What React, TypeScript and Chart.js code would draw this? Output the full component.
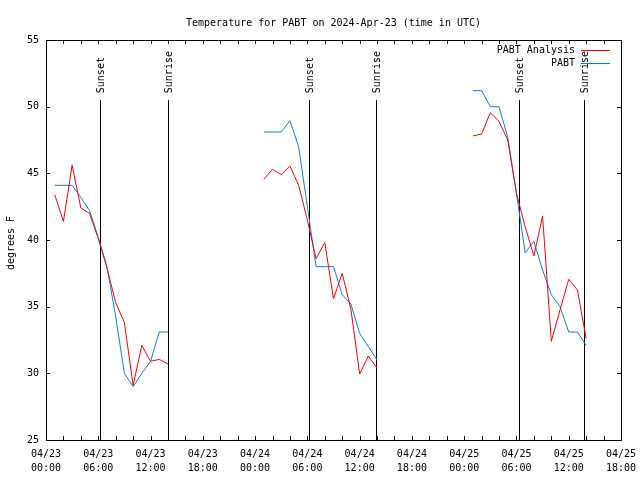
import React, { useEffect, useRef } from "react";
import { Chart, registerables } from "chart.js";

Chart.register(...registerables);

const TITLE = "Temperature for PABT on 2024-Apr-23 (time in UTC)";
const Y_TITLE = "degrees F";

// hours since 04/23 00:00 UTC
const hours = [
  1, 2, 3, 4, 5, 6, 7, 8, 9, 10, 11, 12, 13, 14, 15,
  25, 26, 27, 28, 29, 30, 31, 32, 33, 34, 35, 36, 37, 38, 39,
  49, 50, 51, 52, 53, 54, 55, 56, 57, 58, 59, 60, 61, 62,
];

const analysisValues = [
  43.4, 41.4, 45.6, 42.4, 42.0, 40.1, 37.9, 35.3, 33.8, 29.1, 32.1, 30.9, 31.05, 30.7, null,
  44.55, 45.3, 44.9, 45.55, 44.1, 41.5, 38.6, 39.8, 35.6, 37.5, 34.8, 29.95, 31.3, 30.4, null,
  47.8, 47.95, 49.55, 48.9, 47.5, 43.5, 41.0, 38.8, 41.8, 32.4, 34.75, 37.05, 36.25, 32.6,
];

const observedValues = [
  44.1, 44.1, 44.1, 43.2, 42.2, 40.2, 38.0, 34.25, 30.0, 29.0, 30.0, 30.9, 33.1, 33.1, null,
  48.1, 48.1, 48.1, 48.95, 47.0, 42.5, 38.0, 38.0, 38.0, 35.9, 35.2, 33.0, 32.0, 31.0, null,
  51.2, 51.2, 50.0, 50.0, 47.7, 43.5, 39.05, 39.9, 37.75, 35.9, 35.0, 33.1, 33.1, 32.1,
];

const sunsetHours = [6.24, 30.23, 54.33];
const sunriseHours = [13.97, 37.84, 61.79];

const xTickLabels = [
  ["04/23", "00:00"], ["04/23", "06:00"], ["04/23", "12:00"], ["04/23", "18:00"],
  ["04/24", "00:00"], ["04/24", "06:00"], ["04/24", "12:00"], ["04/24", "18:00"],
  ["04/25", "00:00"], ["04/25", "06:00"], ["04/25", "12:00"], ["04/25", "18:00"],
];

const seriesNames = ["PABT Analysis", "PABT"];
const seriesColors = ["#ff0000", "#0080ff"];

const FONT = "DejaVu Sans Mono";

const decorPlugin = {
  id: "decor",
  beforeDatasetsDraw(chart: any) {
    const { ctx, chartArea, scales } = chart;
    const xs = scales.x;
    const h = chartArea.bottom - chartArea.top;
    ctx.save();
    ctx.strokeStyle = "#000";
    ctx.lineWidth = 1;
    ctx.fillStyle = "#000";
    ctx.font = `10px "${FONT}"`;
    const drawEvent = (hr: number, label: string) => {
      const x = Math.round(xs.getPixelForValue(hr)) + 0.5;
      const yTop = chartArea.bottom - 0.85 * h;
      ctx.beginPath();
      ctx.moveTo(x, chartArea.bottom);
      ctx.lineTo(x, yTop);
      ctx.stroke();
      ctx.save();
      ctx.translate(x + 1, chartArea.bottom - 0.867 * h);
      ctx.rotate(-Math.PI / 2);
      ctx.textAlign = "left";
      ctx.textBaseline = "middle";
      ctx.fillText(label, 0, 0);
      ctx.restore();
    };
    sunsetHours.forEach((hr) => drawEvent(hr, "Sunset"));
    sunriseHours.forEach((hr) => drawEvent(hr, "Sunrise"));
    ctx.restore();
  },
  afterDraw(chart: any) {
    const { ctx, chartArea, scales } = chart;
    const xs = scales.x;
    const ys = scales.y;
    const { left, right, top, bottom } = chartArea;
    ctx.save();
    ctx.strokeStyle = "#000";
    ctx.fillStyle = "#000";
    ctx.lineWidth = 1;
    // frame
    ctx.strokeRect(Math.round(left) + 0.5, Math.round(top) + 0.5, Math.round(right - left), Math.round(bottom - top));
    // x ticks (every 2 h), inward on bottom and top
    ctx.beginPath();
    for (let v = xs.min; v <= xs.max; v += 2) {
      const x = Math.round(xs.getPixelForValue(v)) + 0.5;
      ctx.moveTo(x, bottom);
      ctx.lineTo(x, bottom - 4);
      ctx.moveTo(x, top);
      ctx.lineTo(x, top + 4);
    }
    // y ticks every 5, inward on left and right
    for (let v = ys.min; v <= ys.max; v += 5) {
      const y = Math.round(ys.getPixelForValue(v)) + 0.5;
      ctx.moveTo(left, y);
      ctx.lineTo(left + 4, y);
      ctx.moveTo(right, y);
      ctx.lineTo(right - 4, y);
    }
    ctx.stroke();

    ctx.font = `10px "${FONT}"`;
    // title
    ctx.textAlign = "center";
    ctx.textBaseline = "middle";
    ctx.fillText(TITLE, (left + right) / 2, 23);
    // y title
    ctx.save();
    ctx.translate(11, (top + bottom) / 2 + 3);
    ctx.rotate(-Math.PI / 2);
    ctx.fillText(Y_TITLE, 0, 0);
    ctx.restore();
    // legend
    ctx.textAlign = "right";
    seriesNames.forEach((name, i) => {
      const y = 49.5 + i * 13;
      ctx.fillStyle = "#000";
      ctx.fillText(name, 575, y + 1);
      ctx.strokeStyle = seriesColors[i];
      ctx.beginPath();
      ctx.moveTo(581, Math.round(y) + 0.5);
      ctx.lineTo(610, Math.round(y) + 0.5);
      ctx.stroke();
    });
    ctx.restore();
  },
};

export default function App() {
  const canvasRef = useRef<HTMLCanvasElement | null>(null);

  useEffect(() => {
    document.body.style.margin = "0";
    const canvas = canvasRef.current;
    if (!canvas) return;
    Chart.defaults.font.family = FONT;
    Chart.defaults.font.size = 10;
    Chart.defaults.color = "#000";

    const mk = (vals: (number | null)[]) =>
      hours.map((hr, i) => ({ x: hr, y: vals[i] }));

    const chart = new Chart(canvas, {
      type: "line",
      data: {
        datasets: [
          {
            label: seriesNames[0],
            data: mk(analysisValues) as any,
            borderColor: seriesColors[0],
            backgroundColor: seriesColors[0],
            borderWidth: 1,
            pointRadius: 0,
            tension: 0,
            spanGaps: false,
          },
          {
            label: seriesNames[1],
            data: mk(observedValues) as any,
            borderColor: seriesColors[1],
            backgroundColor: seriesColors[1],
            borderWidth: 1,
            pointRadius: 0,
            tension: 0,
            spanGaps: false,
          },
        ],
      },
      options: {
        animation: false,
        responsive: false,
        devicePixelRatio: 1,
        layout: { padding: { top: 40, right: 19, left: 0, bottom: 0 } },
        plugins: {
          legend: { display: false },
          title: { display: false },
          tooltip: { enabled: false },
        },
        scales: {
          x: {
            type: "linear",
            min: 0,
            max: 66,
            grid: { display: false, drawTicks: false },
            border: { display: false },
            ticks: {
              stepSize: 6,
              padding: 7,
              maxRotation: 0,
              autoSkip: false,
              font: { family: FONT, size: 10, lineHeight: 1.4 },
              callback: (_v: any, idx: number) => xTickLabels[idx] ?? "",
            },
            afterFit: (s: any) => {
              s.height = 40;
              s.paddingLeft = 0;
              s.paddingRight = 0;
            },
          },
          y: {
            type: "linear",
            min: 25,
            max: 55,
            grid: { display: false, drawTicks: false },
            border: { display: false },
            ticks: {
              stepSize: 5,
              padding: 7,
              font: { family: FONT, size: 10 },
            },
            afterFit: (s: any) => {
              s.width = 46;
              s.paddingTop = 0;
              s.paddingBottom = 0;
            },
          },
        },
      },
      plugins: [decorPlugin],
    });
    return () => chart.destroy();
  }, []);

  return (
    <div style={{ position: "absolute", left: 0, top: 0, width: 640, height: 480, background: "#fff" }}>
      <canvas ref={canvasRef} width={640} height={480} style={{ width: 640, height: 480 }} />
    </div>
  );
}
